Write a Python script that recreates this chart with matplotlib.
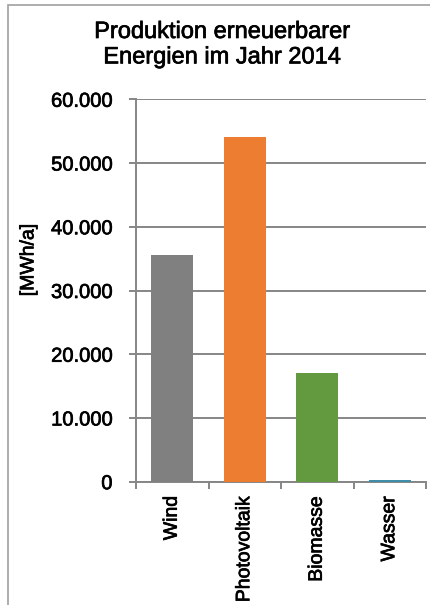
import matplotlib
matplotlib.use("Agg")
import matplotlib.pyplot as plt
import matplotlib.patheffects as pe
from matplotlib.patches import Rectangle
from matplotlib.ticker import FuncFormatter, MultipleLocator

plt.rcParams['font.family'] = ['Liberation Sans', 'DejaVu Sans']

# data
categories = ["Wind", "Photovoltaik", "Biomasse", "Wasser"]
values = [35600, 54100, 17000, 250]
colors = ["#808080", "#ED7D31", "#639A3F", "#3E8EAA"]

title = "Produktion erneuerbarer\nEnergien im Jahr 2014"
ylabel = "[MWh/a]"

# the original text looks a bit heavier than plain Liberation Sans
heavy = [pe.withStroke(linewidth=0.5, foreground="black")]

fig = plt.figure(figsize=(4.3, 6.05), dpi=100)
ax = fig.add_axes([136/430, 1 - 481.7/605, (426 - 136)/430, (481.7 - 99.3)/605])

x = range(len(categories))
ax.bar(x, values, width=0.58, color=colors, zorder=3)

ax.set_xlim(-0.5, len(categories) - 0.5)
ax.set_ylim(0, 60000)
ax.yaxis.set_major_locator(MultipleLocator(10000))
ax.yaxis.set_major_formatter(FuncFormatter(lambda v, p: f"{int(v):,}".replace(",", ".")))

gridc = "#868686"
ax.grid(axis="y", color=gridc, linewidth=1.4, zorder=0)
for s in ["top", "right"]:
    ax.spines[s].set_visible(False)
for s in ["left", "bottom"]:
    ax.spines[s].set_color(gridc)
    ax.spines[s].set_linewidth(1.4)

# category ticks sit between the bars
ax.set_xticks([i - 0.5 for i in range(len(categories) + 1)], minor=False)
ax.set_xticklabels([])
ax.set_xticks(list(x), minor=True)
ax.set_xticklabels(categories, minor=True, rotation=90, fontsize=14, va="top")
ax.tick_params(axis="x", which="major", length=5, width=1.4, color=gridc)
ax.tick_params(axis="x", which="minor", length=0, pad=10)
ax.tick_params(axis="y", length=5, width=1.4, color=gridc, labelsize=14.5, pad=12)

ax.set_ylabel(ylabel, fontsize=14)
ax.yaxis.set_label_coords(-0.34, 0.58)

t = fig.text(0.517, 1 - 21/605, title, ha="center", va="top", fontsize=17, linespacing=1.2)

for txt in [t, ax.yaxis.label] + ax.get_yticklabels() + ax.get_xticklabels(minor=True):
    txt.set_path_effects(heavy)

# outer chart frame
fig.patches.append(Rectangle((8/430, -0.02), 1.1, 1 - 5/605 + 0.02, transform=fig.transFigure,
                             fill=False, edgecolor="#A0A0A0", linewidth=1.2))

fig.savefig("out.png", dpi=100)
plt.close(fig)
